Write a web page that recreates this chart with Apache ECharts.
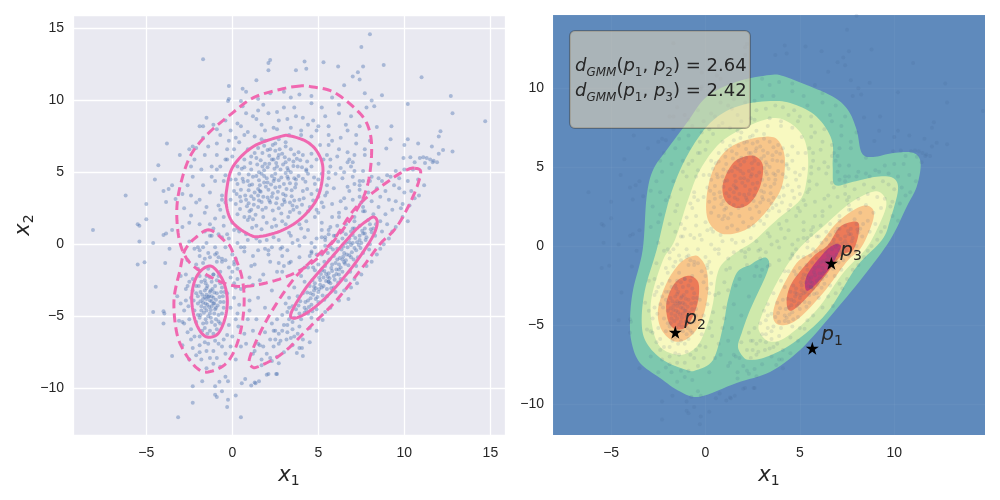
<!DOCTYPE html>
<html><head><meta charset="utf-8">
<style>html,body{margin:0;padding:0;background:#fff}#c{width:1000px;height:500px}</style>
<script src="https://cdn.jsdelivr.net/npm/echarts@6/dist/echarts.min.js"></script></head>
<body><div id="c"></div>
<script>
// ---- points read/, flat x,y lists ----
const outlierPts=[-1.7,12.85,2.2,12.8,2.1,12.6,2.1,12.1,1.4,11.4,-0.2,11,0.6,10.8,0.8,10.6,-0.2,10.1,-0.25,9.95,0.5,9.95,-1.5,8.8,-1.9,8.2,-1.7,8.2,-3.8,7,-2.5,6.6,-2.3,6.8,-3.05,6.2,-4.3,5.5,-4.5,4.5,-6.2,3.4,-5,2.8,-4,3.7,-3.7,3.85,-3.5,4.1,-3.85,2.95,-3.3,3.15,-5,1.75,-5.5,1.4,-5.4,1.3,-8.1,1,-5.4,0.2,-4.6,0.1,-4,0.65,-3.85,0.75,-3.5,1,8,14.6,7.5,13.7,8.8,12.45,7.6,12.35,6.15,12.35,5.3,12.65,4.2,12.7,4.3,12.2,3.7,12.1,7.3,11.95,7,11.65,7.4,11.45,6.5,11.05,11,11.6,7.7,10.5,8.7,10.35,12.7,10.3,8.1,10,8.25,9.6,7.8,9.5,10.2,9.75,12.8,9.1,14.7,8.55,12.1,7.85,12,7.5,9.25,8.2,8.4,8.15,9.2,7.3,10.2,7.3,10.8,7,11.6,6.8,8.95,6.65,10,6.9,12.25,6.55,12.8,6.45,12,6.3,11.3,6,11.5,5.9,11.7,5.8,11.9,5.7,11.1,6.05,9.95,6,10.35,6.05,10.6,5.7,10.9,6,11.2,5.65,11.65,5.7,11.45,5.3,11.15,4.1,10.85,3.4,-3.15,-12,-2.3,-11,-2.3,-9.85,-1.75,-9.5,0.5,-12,-0.3,-11.3,-0.25,-10.8,-1,-10.45,-0.9,-10.6,-0.6,-10.2,0.2,-10.5,-1,-9.85,-0.75,-9.55,-0.4,-9.2,-0.25,-9.5,0.55,-9.65,0.75,-9.35,1.35,-9.65,1.55,-9.5,2,-9.05,2.6,-9,-4.45,-2.95,-5.5,-1.4,-5.1,-1.25,-3.9,-1.3,-3.65,-0.3,-4.6,-4.7,-4,-4.65,-3.95,-4.8,-4,-5.5,-3.5,-7.75,1.3,-9.6,1.1,-9.8,2.1,-9,2.55,-9,4.1,-7.75,3.75,-7.55,4.05,-7.2,2.7,-8.25,6.75,-3.8,7.25,-2.7,5.25,-5.25];
const topInnerPts=[2.1,3.8,2.4,4.4,1.7,4.9,3.1,3.4,2.8,5.2,1.3,3.6,3.6,4.6,2.2,2.9,1.9,5.6,3.3,5.9,0.9,4.4,4.1,3.7,2.6,3.2,1.5,2.6,3.8,5.4,2.9,6.3,0.8,3.1,4.4,4.9,2.3,5.9,1.1,5.2,3.5,2.7,1.8,3.3,2.5,4.9,3.0,4.2,1.6,4.1,2,4.6,3.4,5,1.2,4.7,2.7,2.5,3.9,3.1,4.6,3.5,0.5,3.8,1.4,6,3.1,6.8,2.2,6.6,1,2.3,1.8,1.9,2.9,1.6,3.9,2.2,4.5,2.6,4.8,4.2,4.6,5.4,4.1,6.2,3.4,6.6,2.5,7,1.5,6.7,0.7,5.9,0.4,4.9,0.1,3.7,0.2,2.8,0.7,1.9,1.4,1.3,2.3,1.2,3.1,1.4,2.05,3.25,2.75,4,1.25,3.15,3.25,4.55,1.85,5.15,2.35,3.55,3.65,3.95,0.95,3.75,2.55,5.65,1.55,4.45,3.05,2.95,4.25,4.35,1.95,2.55,2.15,6.15,3.75,5.95,0.65,4.35,1.05,5.65,3.45,3.35,2.65,6,1.35,2.05,2.45,1.75,4.05,2.75,4.35,5.75,3.05,6.05,1.75,6.35,0.85,2.65,0.45,3.3,1.15,4.15,1.65,3.65,2.25,4.15,2.85,4.65,3.35,4.25,3.85,4.75,4.05,5.35,3.55,5.45,2.95,5.55,2.05,5.35,1.45,5.55,0.95,4.85,0.6,4.55,1.85,4.3,2.15,3.05,2.65,3.65,3.15,3.85,3.6,3.05,4.15,3.2,2.35,2.35,1.55,3.05,0.75,3.4,0.3,4.2,1.25,2.75,1.75,2.4,2.85,2.15,3.35,2.25,3.75,2.6,4.7,3.05,4.95,3.75,4.75,4.65,4.3,5.1,3.95,5.85,3.2,5.3,2.45,5.25,1.65,5.85,1.3,6.35,2.05,6.55,2.75,6.6,3.6,6.25,1.95,4,2.5,3.95,3,3.1,3.45,3.75,1,4.1,0.55,5.25,2.3,4.75,1.4,4.75,2.7,4.45,3.25,5.15,3.7,4.2,4.35,3.85,4.1,4.55,1.1,3.35,0.95,2.85,1.7,2.95,2.3,3.3,2.9,2.75,2.55,2.85,3.55,2.4,1.2,1.75,2,1.5,0.25,3.5,0.45,2.45,1.55,5,1.75,5.4,2.15,5.6,2.6,5.4,3.1,4.95,3.1,5.7,3.55,5.75,3.85,6.4,2.35,6.9,1.85,6.85,3.1,7.1,2.7,7.3,1.1,6.1,0.7,5.35,0.3,5.4,-0.1,4.5,-0.1,3.1,5,4.5,5,3.3,4.4,2.3,3.25,1.9,2.55,1.3,1.7,1.05,1.15,1.15,2.95,3.5,1.85,4.75,2.45,4.55,1.5,3.85,3.35,2.9,2.05,4.3];
const topOuterPts=[-2.6,4.1,-2.1,2.9,-1.8,5.2,-1.3,3.6,-0.9,6.2,-0.5,1.9,-1.9,1.4,-2.8,2.5,-2.2,5.9,-1.4,6.8,-0.7,7.6,0.1,6.6,0.3,8.4,1.2,8.9,1.8,9.7,2.6,9.2,3.4,10.2,4.1,8.8,5.2,9.5,4.9,7.9,5.8,7.2,6.6,8.3,6.1,6.1,6.9,5.4,7.2,7,5.6,5,5.9,3.9,6.5,3.2,7.1,4.2,5.3,2.6,5.2,1.5,4.4,1,3.8,0.3,4.6,-0.5,2.9,-0.8,1.9,-0.3,1.1,-1.5,0.2,-1,-0.7,-1.9,-1.3,0.6,-2.2,-0.3,-2.9,1.2,-2.4,3.4,-1.6,2.2,-1,4.4,-0.6,3.1,-0.9,5.2,-0.3,5.9,0.2,7.4,-0.4,8.6,0.9,7.8,1.7,8.3,2.4,8.1,3.2,8.7,4,7.6,4.7,8.6,5.6,8.2,6.2,9.1,6.3,7.4,7.1,6.2,7.6,5.1,6.4,4.6,5.7,5.9,5.4,3.4,6.2,2.2,5.6,1,4.9,0.4,3.2,-0.4,2.3,-0.2,1.2,-0.8,0.5,-0.2,-0.3,0.7,-1.6,0.9,-2.4,2,-1.1,1.1,-1.7,4.1,-2.3,4.7,-2.9,3.5,-2.1,6.7,-1.2,5.4,-0.4,4.8,-0.7,2.4,0.3,1.1,0.9,0.3,1.6,0.2,2.4,0.5,3.3,0.8,3.9,1.4,4.8,1.9,5,2.2,5.5,4.1,6,4.9,6.8,3.7,7.4,3.3,7.6,4.4,7.7,6.6,6.7,7.9,5.4,8.9,4.6,9.8,3.6,9.5,2.7,8.6,1.5,9.3,0.8,9.1,-0.2,7.2,-0.9,7,-1.7,7.4,-1.1,8.3,0.6,9.6,1.5,10.1,2.2,10.5,3,10.6,3.9,10.4,4.6,10.3,5.8,10.2,6.2,9.7,6.9,8.9,7.4,8.2,7.2,7.6,8,7.2,7.7,6.2,6.8,5.9,6.3,5.3,7,4.7,7.4,3.8,8.1,4.7,8.5,5.6,5.8,2.8,6.1,1.3,5.4,0.5,4.8,-0.2,4.2,-1.6,3.4,-1.2,2.6,-1.9,1.8,-2.1,1,-2.3,0.3,-1.7,-0.6,-1,-1.1,-2.1,0.1,-2.7,0.7,-3,2.3,-3.2,1.6,-2.5,2.9,-1.9,3.3,-1.3,2.8,-0.3,2.7,-1.3,4.8,-1.8,4.5,-0.8,5.6,-2.6,5.2,-3,4.6,-0.6,6.6,0.1,5.4,0.3,5.9,0.6,7,1.1,7.1,1.6,7.6,2.3,7.5,2.9,7.9,3.6,7.4,4.4,7.1,5.1,7,5.7,6.7,5.7,4.3,5.2,3.2,4.7,1.6,3.7,1.1,2.4,0.9,1.7,0.7,-0.2,2.1,-0.4,3.9,-0.1,2.5,6.5,5.6,6.9,2.7,6.2,3.7,4.5,6.7,6.4,1.7,7.3,2.4,5.9,2.1];
const topExtraPts=[-0.7,5.4,-0.5,4.4,-0.6,3.4,-0.8,2.7,-0.4,2.9,-0.5,1.3,0,1.5,0.4,0.9,0.8,0.7,1.4,0.4,2,0.3,2.7,0.3,3.4,0.6,4,1.1,4.3,1.6,4.9,2.4,5.2,2.9,5.5,3.6,5.6,4.6,5.7,5.4,5.5,6.2,5.1,6.9,4.6,7.5,4,7.9,3.4,8.1,2.6,8,1.9,7.9,1.3,7.5,0.7,7.6,0.4,7.1,0,6.1,-0.4,5.9,-1.2,4.7,-1.5,2.6,-1,1.8,-1.3,1.4,-0.8,0.7,-0.2,0.4,0.3,0.1,0.7,-0.5,1.5,-0.4,2.1,-0.7,2.9,-0.2,3.5,0.1,4.2,0.5,5.2,1,5.8,1.9,6.3,3,6.7,4,6.5,5,6.2,6.6,5.6,7.6,5,8.2,4.4,8.3,3.7,8.9,3,9.5,2.1,9.1,1.4,8.7,0.5,8.2,-0.1,7.9,-0.9,8,-1.6,6.2,-2.4,5.4,-1.9,3.1,-2.5,1.5,-1.7,-0.2,-0.9,-0.6,0.1,-1.2,1.3,-1.4,2.2,-1.2,3,-1.5,3.9,-0.9,0.5,3,0.2,4.5,-0.3,6.6,0.9,6.6,1.9,7.2,3.3,7.6,4.6,6.3,5.3,5.9,5.2,4.9,4.9,5.9,1.5,3.4,0.3,2.1,0.1,1,1,1.9,0.5];
const leftInnerPts=[-1.3,-3.9,-1.6,-3.2,-1,-4.5,-1.8,-4.3,-0.9,-3.4,-1.4,-5,-1.2,-2.6,-2,-3.6,-0.7,-4,-1.5,-2.2,-1.9,-5.1,-1,-5.6,-1.6,-5.8,-0.6,-3,-2.1,-2.9,-1.3,-3.3,-1.7,-3.8,-1.1,-4.1,-0.8,-4.9,-1.5,-4.6,-1.2,-5.4,-2.2,-4.6,-0.5,-4.4,-1.8,-2.6,-1.1,-2.1,-1.4,-1.7,-0.9,-2.5,-2,-4.9,-1.7,-5.5,-1.3,-6,-0.9,-5.9,-2.1,-3.4,-1.5,-3.5,-1.2,-3.6,-0.95,-3.85,-1.55,-4.1,-1.85,-3.3,-1.35,-4.35,-0.75,-3.65,-1.15,-3.1,-1.65,-4.75,-1.05,-4.8,-0.6,-4.8,-0.55,-3.6,-1.9,-2.2,-2.25,-3.9,-1.45,-2.9,-0.8,-2.2,-1,-2.9,-1.3,-4.8,-1.75,-3.5,-2,-4.1,-1.6,-4.4,-1.1,-3.7,-1.4,-3.65,-1.2,-4.3,-0.95,-5.2,-1.55,-5.2,-1.85,-4.9,-2.1,-5.4,-0.7,-5.5,-0.5,-4,-0.45,-3.3,-0.7,-2.7,-1.3,-2.3,-1.6,-2.5,-1.95,-2.9,-2.3,-3.2,-1.45,-6.2,-1.1,-6.2,-1.75,-6,-1.05,-3.35,-1.5,-3.05,-0.85,-4.25,-1.25,-4.55,-1.7,-4.05,-1.35,-3.6,-1.6,-3.65,-1.2,-3.95,-1.45,-4.2,-0.95,-4.4,-1.8,-4.6,-1.05,-4.1,-1.5,-3.8,-1.85,-3.95,-1.25,-3.2,-0.65,-3.3,-1.55,-2.7,-1.25,-5.1,-1.5,-5.45,-0.8,-5.35];
const leftOuterPts=[-3,-2.2,-2.8,-4.6,-2.6,-6.1,-2.3,-7.2,-1.8,-8,-1.1,-8.3,-0.4,-7.6,0,-6.4,0.3,-4.8,0.5,-3.1,0.1,-1.4,-0.4,-0.2,-1.2,0.6,-2,-0.2,-2.6,-1.1,-2.7,-3.1,-2.5,-5.2,-2.2,-6.4,-1.5,-7.4,-0.8,-6.9,-0.2,-5.6,0.1,-3.7,-0.1,-2.3,-0.6,-1.2,-1.4,-0.6,-2.1,-1.4,-3.2,-3.6,-3.1,-5.3,-2.9,-7,-2.5,-8,-1.5,-8.6,-0.7,-8.5,0.2,-8,0.7,-6.2,0.9,-5.2,1,-3.9,-2.4,-3.7,-2.7,-2.1,-1.9,-0.8,-1,-0.2,0,-0.7,0.3,-2.4,-0.3,-6.3,-1.1,-7.4,-1.9,-7,-2.4,-5.9,-2.9,-5.4,-3,-4.1,-0.9,-1.2,-1.7,-1.3,-2.3,-2.4,-0.2,-1.6,-0.5,-6.6,-1.4,-6.9,-1.9,-6.4,-0.3,-3.4,-0.1,-4.4,-2.55,-4.3,0.35,-5.7,-2.1,-7.7,-0.9,-7.9,-0.1,-7.1,0.5,-7.1,1.2,-6,1.6,-7,1.4,-5.2,1.5,-3.7,1.9,-4.4,1.2,-2.8,2.2,-7.9,2.7,-6.9,2.4,-6,-1.5,0.1,-0.6,0.5,-2.5,0.2,-1.3,-0.9,-0.8,-0.9,-1.6,-1,-2,-1.7,-0.4,-1.1,0,-1.9,-1,-0.7,-1.9,-0.4,-2.6,-2.9,-2.7,-3.9,-2.5,-2.6,-2.8,-5.5,-2.4,-6.6,-1.6,-6.8,-1,-6.7,-0.6,-7.1,-1.3,-7.9,-1.9,-7.5,0.2,-5.2,0.4,-4.2,0.2,-3,0.8,-6.9,1.3,-7.4,1,-4.6];
const rightInnerPts=[5.6,-2,6,-1.3,5.1,-2.8,6.5,-0.6,4.7,-3.5,7,0.1,6.2,-2.1,5.4,-1.5,4.4,-3.9,6.9,-0.9,5.9,-0.8,5,-3.3,7.4,0.6,5.3,-2.3,6.3,-1.6,4.2,-4.4,7.7,1.1,5.7,-2.7,6.7,-0.2,4.8,-2.7,3.9,-4.8,6.1,-0.3,5.5,-3.1,7.2,-0.4,4.6,-4.2,8,1.4,6.6,-1.1,5.8,-1.4,5.2,-1.8,7.5,0.1,3.7,-4.5,4.1,-3.4,6.4,-1.9,5,-4,6.8,0.4,4.5,-2.9,5.95,-2.45,6.25,-0.95,5.45,-2.55,6.75,-1.45,4.95,-3.65,7.15,0.45,5.65,-1.05,5.25,-3.55,6.05,-1.75,4.35,-3.35,7.6,0.75,6.45,-0.15,4.85,-3.05,5.55,-2.25,6.9,-0.05,4.55,-3.75,6.15,-2.65,7.35,-0.05,5.75,-3.05,5.15,-2.05,4.25,-4,6.55,-1.35,7.8,0.5,3.95,-3.95,6.85,-1.9,5.35,-3.85,7.05,-1.05,4.65,-4.65,5.85,-0.35,8.2,1.1,3.6,-5.1,4,-5.2,4.4,-4.8,4.9,-4.5,5.5,-3.6,6,-3.3,6.6,-2.5,7.2,-1.5,7.6,-0.6,8,0,8.3,0.6,7.9,1.7,7.4,1.3,6.9,0.9,6.4,0.4,5.7,-0.2,5.2,-0.7,4.7,-1.6,4.2,-2.6,3.8,-3.6,3.5,-4.3,7.1,1.1,6.4,-1.05,5.8,-1.85,5.1,-2.5,4.75,-3.2,6.2,-1.4,6.65,-0.7,7.25,0.15,5.45,-2.05,4.45,-4.35,5.65,-2.35,6.05,-2.05,6.95,-0.55,7.45,-0.25,7.75,0.3,5.05,-3.1,4.3,-4.55,3.85,-4.25,5.35,-1.2,6.35,-0.35,6.8,0.15,7.55,0.95,8.1,0.85,5.9,-3,6.3,-2.4,4.65,-2.5,5,-1.4,5.55,-0.6,6.15,0.2,6.6,0.7,7.3,-0.9,7.95,-0.35,8.35,1.4,8.6,1.6,8.7,0.9,8.9,2.1,9,1.4,9.3,2.4,8.5,2.6,8.2,2.1,7.7,2.3,9.5,3,9.1,3.1,8.6,3.3,8.1,3,10,3.6,9.7,3.9,9.4,4.1,8.9,3.7,8.4,3.9,7.6,3.1,9.9,2.8,10.2,4.4,9.7,4.6,9.2,4.7,8.7,4.4,5.3,-2.9,5.6,-2.6,5.9,-2.2,6.2,-1.75,6.5,-1.25,6.8,-0.75,7.1,-0.25,5.05,-2.3,5.35,-1.85,5.75,-1.65,6.1,-1.05,6.45,-0.85,4.75,-2.95,4.55,-3.4,4.85,-3.8,4.2,-4.75,7.4,0.3,7.7,0.75,7,0.65,8.05,1.05];
const rightOuterPts=[3.2,-6.1,2.8,-6.7,2.4,-7.1,2,-7.6,3.5,-7,1.7,-8,2.6,-7.8,3,-7.5,3.3,-5.2,3,-5.6,2.5,-6,2.2,-6.6,1.8,-7.1,3.5,-5.9,3.8,-6.2,4.1,-6.6,3.2,-4.7,2.9,-4.9,3.3,-3.7,3.6,-3,4,-2.2,4.4,-1.6,4.9,-0.7,5.4,-0.1,6,0.6,6.6,1.4,7.1,1.9,7.6,2.6,6.4,0.9,5.6,0.7,4.9,-6,4.5,-5.8,5,-5.2,5.7,-4.4,6.2,-3.9,6.9,-3,7.5,-2.1,8.1,-1.2,8.6,-0.3,9.1,0.4,9.5,1.2,9.9,1.9,10.3,2.7,10.6,3.2,10.2,1.6,3.6,-6.4,3.4,-6.5,2.6,-5.2,2.3,-5.5,1.9,-6.1,1.5,-6.9,1.2,-7.6,1.7,-8.4,2.3,-8.1,3.9,-7.2,4.5,-6.8,4.6,-5.1,5.4,-4.7,6.5,-3.2,7.1,-2.4,7.8,-1.5,8.4,-0.7,8.8,0,9.3,0.9,9.8,2.5,10.4,3.7,10.8,4.5,10.5,5.2,10,5.2,9.5,5.1,9,4.8,8.5,4.6,8,4.4,7.4,4.1,7,3.1,6.6,2.5,6.2,1.9,5.7,1.2,5.2,0.5,4.6,0.1,3.3,-4.4,3.1,-4.1,2.7,-6.2,2.9,-6,3.2,-5.6,3.5,-5.4,3.9,-5.7,3.15,-6.6,2.5,-6.6];
// ---- contour outlines (data coordinates), outermost to innermost ----
const contourTeal=[[-3.33,-0.25],[-3.12,3.12],[-2.78,4.82],[-2.06,6.08],[-1,7.79],[0.06,9.46],[1.65,10.41],[3.42,10.84],[4.11,10.77],[5.36,10.2],[6.76,9.46],[7.55,8.62],[8.01,7.35],[8.28,5.89],[8.88,5.64],[9.94,5.89],[11,5.91],[11.4,5.26],[11.19,3.76],[10.66,2.49],[9.78,0.38],[8.35,-1.95],[6.6,-4.48],[5.01,-6.59],[3.42,-7.98],[1.65,-8.68],[-0.29,-9.55],[-1.35,-9.23],[-2.41,-8.37],[-3.47,-7.41],[-3.91,-6.15],[-4,-4.69],[-3.84,-2.79]];
const contourGreen=[[-2.59,-0.25],[-1.88,3.12],[-1,5.66],[0.24,7.79],[1.65,8.83],[3.42,9.19],[4.64,9],[5.89,8.19],[6.69,6.72],[6.74,5.03],[6.86,3.87],[7.82,4.07],[9.07,4.39],[9.94,4.31],[10.2,3.55],[9.78,1.65],[9.35,0.38],[8.01,-1.31],[6.42,-4.25],[4.64,-6.15],[3.24,-7.02],[2.36,-7.22],[1.99,-7.02],[1.72,-6.38],[1.92,-5.51],[2.36,-4.06],[3.31,-1.52],[3.24,-0.76],[2.78,-0.89],[2.36,-1.2],[1.65,-1.71],[1.19,-3.42],[0.93,-5.11],[0.4,-7.22],[-0.47,-7.86],[-1,-7.86],[-2.25,-7.22],[-3.12,-6.15],[-3.38,-4.88],[-3.21,-2.79]];
const contourYellowA=[[-1.62,0.38],[-2.25,-0.89],[-2.85,-3.21],[-2.85,-4.88],[-2.41,-6.38],[-1.35,-6.91],[-0.47,-6.38],[0.06,-5.11],[0.4,-3.61],[0.59,-1.95],[0.93,-1.08],[1.83,-0.25],[2.52,0.27],[3.77,1.65],[5.01,2.92],[5.36,4.18],[5.43,5.66],[5.17,6.93],[4.48,7.79],[3.58,8.11],[2.18,7.56],[0.77,6.53],[-0.29,4.82],[-0.93,2.92]];
const contourYellowC=[[4.9,-0.25],[6.23,1.22],[7.66,2.72],[8.88,3.44],[9.41,3.23],[9.57,2.49],[9.07,1.01],[8.45,-0.25],[7.29,-1.71],[5.89,-4.06],[4.3,-5.75],[3.42,-6.06],[2.89,-5.51],[2.89,-4.69],[3.77,-2.34]];
const contourOrangeA=[[3.42,6.93],[2.18,6.72],[1.12,6.08],[0.4,4.82],[0.06,3.12],[0.13,1.65],[0.77,0.82],[1.65,0.82],[2.52,1.33],[3.42,2.49],[4.04,3.76],[4.21,5.45],[3.95,6.53]];
const contourOrangeB=[[-0.66,-0.63],[-1.35,-1.08],[-2.06,-2.34],[-2.52,-4.06],[-2.32,-5.32],[-1.62,-6.06],[-0.82,-5.75],[-0.2,-4.69],[0.13,-2.98],[0.06,-1.52],[-0.29,-0.76]];
const contourOrangeC=[[5.8,-0.25],[6.95,1.46],[8.19,2.49],[8.81,2.41],[8.88,1.65],[8.28,-0.04],[7.48,-1],[6.23,-2.98],[4.83,-4.69],[3.95,-5.01],[3.58,-4.48],[3.84,-3.21],[4.83,-1.08]];
const contourRedA=[[2.18,5.7],[1.46,5.26],[0.93,3.99],[1.03,2.92],[1.65,2.41],[2.36,2.72],[2.89,3.76],[3.05,5.03],[2.71,5.64]];
const contourRedB=[[-1,-1.9],[-1.62,-2.34],[-2.06,-3.53],[-1.99,-4.69],[-1.62,-5.26],[-1,-5.11],[-0.47,-3.85],[-0.34,-2.58],[-0.56,-2.03]];
const contourRedC=[[6.49,0.06],[7.13,1.22],[8.01,1.54],[8.13,0.91],[7.82,-0.25],[7.13,-0.68],[5.89,-2.58],[4.64,-4.06],[4.3,-3.61],[4.57,-2.34],[5.7,-0.68]];
const contourMagenta=[[6.86,0.1],[6.42,-0.25],[5.54,-1.52],[5.27,-2.34],[5.43,-2.83],[6.16,-2.03],[6.69,-1.2],[7.16,-0.13],[7.07,0.1]];
// ---- ellipse outlines (data coordinates) ----
const ellipseTopSolid=[[3.35,7.53],[2.77,7.48],[1.2,6.78],[0.04,5.4],[-0.33,3.78],[-0.33,2.62],[0.04,1.49],[1.03,0.65],[1.67,0.56],[2.95,1],[4.11,1.92],[4.98,3.31],[5.27,5.17],[4.98,6.35],[4.33,7.13]];
const ellipseTopDash=[[3.94,11],[2.77,10.76],[1.2,10.17],[-0.13,8.99],[-1.49,7.6],[-2.46,6.09],[-3.04,4],[-3.23,2.18],[-3.04,0.1],[-2.46,-1.29],[-1.3,-2.24],[-0.13,-2.82],[1.03,-2.89],[2.95,-2.33],[4.62,-1.29],[5.85,0.17],[7.23,2.39],[7.89,4.26],[8.1,6.78],[7.81,8.43],[7.02,9.56],[5.85,10.6],[4.69,10.93]];
const ellipseLeftSolid=[[-1.34,-1.5],[-1.88,-1.9],[-2.23,-2.7],[-2.36,-3.86],[-2.17,-5.25],[-1.78,-6.17],[-1.34,-6.45],[-0.81,-6.17],[-0.42,-5.13],[-0.29,-3.86],[-0.48,-2.7],[-0.91,-1.82]];
const ellipseLeftDash=[[-1.3,1],[-2.07,0.53],[-2.75,-0.39],[-3.04,-1.78],[-3.39,-3.86],[-3.23,-6.15],[-2.75,-7.54],[-2.07,-8.58],[-1.4,-8.86],[-0.33,-8.24],[0.35,-6.64],[0.68,-4.33],[0.55,-2.24],[-0.03,-0.39],[-0.33,0.1]];
const ellipseRightSolid=[[3.55,-5.13],[3.45,-4.67],[4.33,-2.94],[5.49,-1.29],[6.65,0.31],[7.25,1.1],[7.8,1.62],[8.2,1.9],[8.42,1.6],[8.3,0.9],[7.81,-0.16],[6.84,-1.78],[5.49,-3.63],[4.33,-4.76]];
const ellipseRightDash=[[10.62,5.28],[10.95,4.96],[10.5,3.31],[9.56,1.23],[8.59,0.03],[7.6,-1.55],[6.07,-3.86],[4.52,-5.72],[2.95,-7.54],[1.61,-8.44],[1.13,-8.49],[1.03,-7.8],[2,-5.25],[3.53,-2.47],[5.1,-0.6],[5.85,0.24],[7.23,2.62],[9.17,4.47],[10.14,5.17]];
const starPoints=[[5.66,-6.48],[-1.6,-5.47],[6.67,-1.1]];
const starNames=['1','2','3'];
const boxAnchor=[-7.18,13.62];
const boxLines=['2.64','2.42'];
const xRangeL=[-9.26,15.85],yRangeL=[-13.24,15.93],xRangeR=[-8.08,14.81],yRangeR=[-11.98,14.64];

const ink='#262626';
const pairs=[];
[outlierPts,topInnerPts,topOuterPts,topExtraPts,leftInnerPts,leftOuterPts,rightInnerPts,rightOuterPts].forEach(a=>{for(let i=0;i<a.length;i+=2)pairs.push([a[i],a[i+1]]);});
const fmt=v=>String(v).replace('-','\u2212');
const mathFont='"DejaVu Sans"';
function axis(idx,range,type,extra){return Object.assign({type:'value',gridIndex:idx,min:range[0],max:range[1],
  axisLine:{show:false},axisTick:{show:false},
  axisLabel:{color:ink,fontSize:14,fontFamily:'"Liberation Sans"',margin:type==='x'?11:9,padding:type==='y'?[2,0,0,0]:0,showMinLabel:false,showMaxLabel:false,formatter:fmt},
  splitLine:{show:true,lineStyle:{color:extra.grid,width:1.3}}},extra.o||{});}
const nameRich={v:{fontFamily:mathFont,fontStyle:'italic',fontSize:21,color:ink,lineHeight:26},s:{fontFamily:mathFont,fontSize:14,color:ink,verticalAlign:'bottom',lineHeight:17}};
// smooth the read outline in screen space so it draws as a curve through every read point
function curve(p){const out=[],n=p.length;for(let i=0;i<n;i++){const a=p[(i+n-1)%n],b=p[i],c=p[(i+1)%n],d=p[(i+2)%n];
  for(let k=0;k<8;k++){const t=k/8,t2=t*t,t3=t2*t;out.push([0,1].map(j=>0.5*(2*b[j]+(c[j]-a[j])*t+(2*a[j]-5*b[j]+4*c[j]-d[j])*t2+(3*b[j]-a[j]-3*c[j]+d[j])*t3)));}}return out;}
function poly(pts,xi,style,z){return {type:'custom',xAxisIndex:xi,yAxisIndex:xi,clip:true,z:z,silent:true,data:[pts[0]],
  renderItem:(p,api)=>({type:'polygon',shape:{points:curve(pts.map(q=>api.coord(q)))},style:style})};}
const series=[];
[[contourTeal,'#7dc8ae'],[contourGreen,'#cfe9ab'],[contourYellowA,'#f8f9c0'],[contourYellowC,'#f8f9c0'],[contourOrangeA,'#f8c68a'],[contourOrangeB,'#f8c68a'],[contourOrangeC,'#f8c68a'],[contourRedA,'#ec7a58'],[contourRedB,'#ec7a58'],[contourRedC,'#ec7a58'],[contourMagenta,'#c33e73']]
 .forEach(([p,c])=>series.push(poly(p,1,{fill:c},2)));
series.push({type:'scatter',xAxisIndex:1,yAxisIndex:1,z:3,silent:true,clip:true,symbolSize:4,data:pairs,itemStyle:{color:'#3a5a8c',opacity:0.13}});
series.push({type:'scatter',xAxisIndex:0,yAxisIndex:0,z:2,silent:true,clip:true,symbolSize:4,data:pairs,itemStyle:{color:'#4c72b0',opacity:0.42}});
const pink='#f068b0';
[ellipseTopSolid,ellipseLeftSolid,ellipseRightSolid].forEach(p=>series.push(poly(p,0,{fill:'none',stroke:pink,lineWidth:3},4)));
[ellipseTopDash,ellipseLeftDash,ellipseRightDash].forEach(p=>series.push(poly(p,0,{fill:'none',stroke:pink,lineWidth:3,lineDash:[9,5]},4)));
series.push({type:'scatter',xAxisIndex:1,yAxisIndex:1,z:6,silent:true,symbol:'path://M50 0L61.8 36.2L100 36.2L69.1 58.6L80.9 95.1L50 72.7L19.1 95.1L30.9 58.6L0 36.2L38.2 36.2Z',symbolSize:13,
  data:starPoints.map((p,i)=>({value:p,label:{show:true,position:'right',offset:[-2.5,-13],formatter:'{p|p}{s|'+starNames[i]+'}',rich:{p:{fontFamily:mathFont,fontStyle:'italic',fontSize:20,color:ink,lineHeight:26},s:{fontFamily:mathFont,fontSize:14,color:ink,verticalAlign:'bottom',lineHeight:17}}}})),itemStyle:{color:'#000',opacity:1}});
const r=(n)=>'{d|d}{g|GMM}{n|(}{d|p}{s|1}{n|, }{d|p}{s|'+n+'}{n|) = '+boxLines[n-2]+'}';
series.push({type:'scatter',xAxisIndex:1,yAxisIndex:1,z:8,silent:true,symbolSize:0,data:[boxAnchor],itemStyle:{opacity:1},
  label:{show:true,position:[0,0],width:170,padding:[23,5,24,5],backgroundColor:'rgba(245,222,179,0.5)',borderColor:'rgba(60,60,60,0.45)',borderWidth:1,borderRadius:5,
   formatter:r(2)+'\n'+r(3),rich:{d:{fontFamily:mathFont,fontStyle:'italic',fontSize:18,color:ink,lineHeight:25},n:{fontFamily:mathFont,fontSize:18,color:ink,lineHeight:25},g:{fontFamily:mathFont,fontStyle:'italic',fontSize:12,color:ink,verticalAlign:'bottom',lineHeight:15},s:{fontFamily:mathFont,fontSize:12,color:ink,verticalAlign:'bottom',lineHeight:15}}}});
const chart=echarts.init(document.getElementById('c'),null,{renderer:'canvas'});
chart.setOption({animation:false,backgroundColor:'#fff',
 grid:[{left:73,top:15,width:432,height:420,show:true,backgroundColor:'#e9e9f1',borderWidth:0},{left:553,top:15,width:432,height:420,show:true,backgroundColor:'#5f8abc',borderWidth:0}],
 xAxis:[axis(0,xRangeL,'x',{grid:'#fff',o:{name:'{v|x}{s|1}',nameLocation:'middle',nameGap:26,nameTextStyle:{rich:nameRich}}}),
        axis(1,xRangeR,'x',{grid:'rgba(255,255,255,0.035)',o:{name:'{v|x}{s|1}',nameLocation:'middle',nameGap:26,nameTextStyle:{rich:nameRich}}})],
 yAxis:[axis(0,yRangeL,'y',{grid:'#fff',o:{name:'{v|x}{s|2}',nameLocation:'middle',nameGap:36,nameRotate:90,nameTextStyle:{rich:nameRich}}}),
        axis(1,yRangeR,'y',{grid:'rgba(255,255,255,0.035)'})],
 series});
</script></body></html>
